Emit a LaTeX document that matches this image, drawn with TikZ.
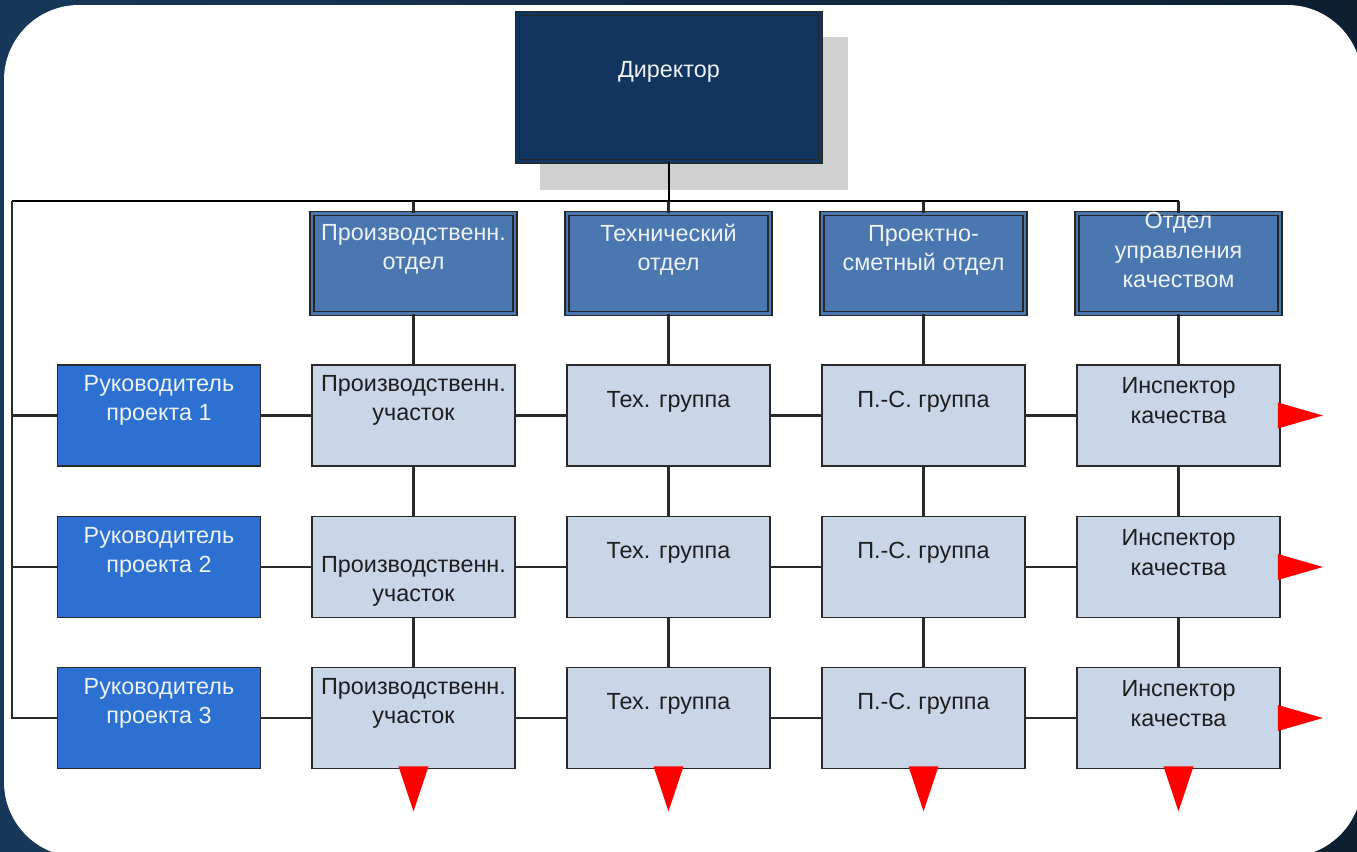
\documentclass[tikz,border=0pt]{standalone}
\usepackage{fontspec}
\setmainfont{Liberation Sans}
\definecolor{bgdark}{HTML}{0D1F31}
\definecolor{bgmid}{HTML}{17385A}
\definecolor{dirfill}{HTML}{12355F}
\definecolor{deptfill}{HTML}{4A77AF}
\definecolor{pmfill}{HTML}{2C71D1}
\definecolor{cellfill}{HTML}{C8D6E8}
\definecolor{edge}{HTML}{2A2A2A}
\definecolor{shadowgray}{HTML}{D0D0D0}
\definecolor{wtext}{HTML}{EEF2F7}
\definecolor{dtext}{HTML}{1E1E1E}
\definecolor{arrowred}{HTML}{FF0000}
\begin{document}
\begin{tikzpicture}[x=0.02cm,y=-0.02cm,
  font=\fontsize{13.3}{16.7}\selectfont,
  box/.style={draw=edge, line width=1pt, rectangle, inner sep=0pt,
    minimum width=4.06cm, minimum height=2.02cm},
  cell/.style={box, fill=cellfill},
  pm/.style={box, fill=pmfill},
  dept/.style={box, fill=deptfill, draw=black!85, line width=0.9pt, double=deptfill,
    double distance=1.3pt, minimum height=2.0cm},
  dirbox/.style={box, fill=dirfill, draw=black!85, line width=0.9pt, double=dirfill,
    double distance=1.3pt, minimum width=6.06cm, minimum height=2.96cm},
  wtxt/.style={text=wtext, align=center, inner sep=0pt},
  dtxt/.style={text=dtext, align=center, inner sep=0pt},
  conn/.style={draw=edge, line width=1.2pt},
  bus/.style={draw=black, line width=1.7pt},
  tri/.style={fill=arrowred}
]
\useasboundingbox (0,0) rectangle (1357,852);
% background
\shade[left color=bgmid, right color=bgdark] (0,0) rectangle (1357,852);
\fill[white, rounded corners=1.5cm] (4,5) rectangle (1362,857);
\fill[bgdark] (1357,0) rectangle (1362,857);

% director with shadow
\fill[shadowgray] (540,37) rectangle (848,190);
\node[dirbox] (dir) at (669,87.5) {};
\node[wtxt] (tdir) at (669,72) {Директор};

% departments
\foreach \i/\x in {1/413.5,2/668.5,3/923.5,4/1178.5}{
  \node[dept] (d\i) at (\x,263.5) {};
}
\node[wtxt] (td1) at (413.5,249.5) {Производственн.\\отдел};
\node[wtxt] (td2) at (668.5,249.5) {Технический\\отдел};
\node[wtxt] (td3) at (923.5,250.5) {Проектно-\\сметный отдел};
\node[wtxt] (td4) at (1178.5,250) {Отдел\\управления\\качеством};

% project managers and cells
\foreach \r/\y in {1/415.5,2/567,3/718}{
  \node[pm] (pm\r) at (159,\y) {};
  \foreach \c/\x in {1/413.5,2/668.5,3/923.5,4/1178.5}{
    \node[cell] (c\r\c) at (\x,\y) {};
  }
}
\node[wtxt] (tpm1) at (159,400.5) {Руководитель\\проекта 1};
\node[wtxt] (tpm2) at (159,552.5) {Руководитель\\проекта 2};
\node[wtxt] (tpm3) at (159,703.5) {Руководитель\\проекта 3};

\node[dtxt] (t11) at (413.5,400.5) {Производственн.\\участок};
\node[dtxt] (t21) at (413.5,581.5) {Производственн.\\участок};
\node[dtxt] (t31) at (413.5,703.5) {Производственн.\\участок};
\foreach \r/\y in {1/402,2/553,3/704}{
  \node[dtxt] (t\r2) at (668.5,\y) {Тех. группа};
  \node[dtxt] (t\r3) at (923.5,\y) {П.-С. группа};
}
\node[dtxt] (t14) at (1178.5,400.5) {Инспектор\\качества};
\node[dtxt] (t24) at (1178.5,552.5) {Инспектор\\качества};
\node[dtxt] (t34) at (1178.5,703.5) {Инспектор\\качества};

% bus
\coordinate (busL) at (12,201);
\coordinate (busR) at (1178.5,201);
\draw[bus] (dir) -- (dir |- busL);
\draw[bus] (busL) -- (busR);
\draw[conn] (busR) -- (d4);
\foreach \i in {1,2,3}{ \draw[conn] (d\i.north |- busL) -- (d\i); }
\draw[conn] (busL) |- (pm3);
\draw[conn] (busL |- pm1) -- (pm1);
\draw[conn] (busL |- pm2) -- (pm2);

% grid connectors
\foreach \c in {1,2,3,4}{
  \draw[conn] (d\c) -- (c1\c);
  \draw[conn] (c1\c) -- (c2\c);
  \draw[conn] (c2\c) -- (c3\c);
}
\foreach \r in {1,2,3}{
  \draw[conn] (pm\r) -- (c\r1);
  \draw[conn] (c\r1) -- (c\r2);
  \draw[conn] (c\r2) -- (c\r3);
  \draw[conn] (c\r3) -- (c\r4);
}

% red triangles
\foreach \r in {1,2,3}{
  \fill[tri] ([shift={(-3,-13)}]c\r4.east) -- ([shift={(42,0)}]c\r4.east) -- ([shift={(-3,13)}]c\r4.east) -- cycle;
}
\foreach \c in {1,2,3,4}{
  \fill[tri] ([shift={(-15,-3)}]c3\c.south) -- ([shift={(0,42)}]c3\c.south) -- ([shift={(15,-3)}]c3\c.south) -- cycle;
}
\end{tikzpicture}
\end{document}
